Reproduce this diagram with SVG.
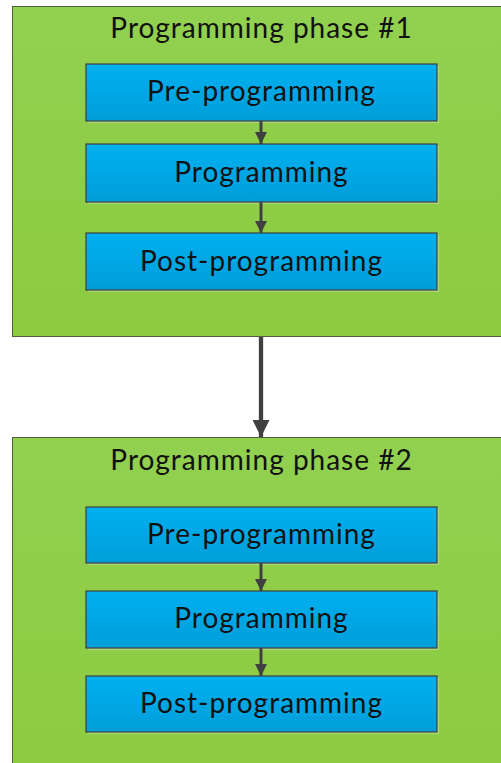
<svg xmlns="http://www.w3.org/2000/svg" width="501" height="763" viewBox="0 0 501 763">
<defs>
<linearGradient id="blue" x1="0" y1="0" x2="0" y2="1">
<stop offset="0" stop-color="#00B0F0"/>
<stop offset="1" stop-color="#009ED8"/>
</linearGradient>
<linearGradient id="green" x1="0" y1="0" x2="0" y2="1">
<stop offset="0" stop-color="#92D050"/>
<stop offset="1" stop-color="#8CCB40"/>
</linearGradient>
<marker id="ah" viewBox="0 0 12 12" refX="12" refY="6" markerWidth="12" markerHeight="12" markerUnits="userSpaceOnUse" orient="auto">
<path d="M0,0 L12,6 L0,12 Z" fill="#404040"/>
</marker>
<marker id="ahb" viewBox="0 0 17 17" refX="17" refY="8.5" markerWidth="17" markerHeight="17" markerUnits="userSpaceOnUse" orient="auto">
<path d="M0,0 L17,8.5 L0,17 Z" fill="#404040"/>
</marker>
</defs>
<style>
.phase{fill:url(#green);stroke:#4F5F3A;stroke-width:1}
.step{fill:url(#blue);stroke:#404040;stroke-width:1.2}
.shadow{fill:#B5D98A;opacity:0.8}
.title,.label{font-family:Lato,"Open Sans",sans-serif;font-size:28px;letter-spacing:1px;fill:#111;text-anchor:middle}
.conn{stroke:#404040;stroke-width:3;fill:none}
.connb{stroke:#404040;stroke-width:4.3;fill:none}
</style>
<g id="phase1">
<rect class="phase" x="12.5" y="6.5" width="500" height="330"/>
<text class="title" x="261.5" y="38">Programming phase #1</text>
</g>
<g id="p1-pre">
<rect class="shadow" x="88" y="66" width="351" height="57"/>
<rect class="step" x="86" y="64" width="351" height="57"/>
<text class="label" x="261.5" y="101">Pre-programming</text>
</g>
<g id="p1-prog">
<rect class="shadow" x="88" y="146" width="351" height="58"/>
<rect class="step" x="86" y="144" width="351" height="58"/>
<text class="label" x="261.5" y="182">Programming</text>
</g>
<g id="p1-post">
<rect class="shadow" x="88" y="235" width="351" height="57"/>
<rect class="step" x="86" y="233" width="351" height="57"/>
<text class="label" x="261.5" y="271">Post-programming</text>
</g>
<g id="phase2">
<rect class="phase" x="12.5" y="437.5" width="500" height="340"/>
<text class="title" x="261.5" y="470">Programming phase #2</text>
</g>
<g id="p2-pre">
<rect class="shadow" x="88" y="509" width="351" height="56"/>
<rect class="step" x="86" y="507" width="351" height="56"/>
<text class="label" x="261.5" y="544">Pre-programming</text>
</g>
<g id="p2-prog">
<rect class="shadow" x="88" y="593" width="351" height="57"/>
<rect class="step" x="86" y="591" width="351" height="57"/>
<text class="label" x="261.5" y="628">Programming</text>
</g>
<g id="p2-post">
<rect class="shadow" x="88" y="678" width="351" height="56"/>
<rect class="step" x="86" y="676" width="351" height="56"/>
<text class="label" x="261.5" y="713">Post-programming</text>
</g>
<g id="connectors">
<line class="conn" x1="261" y1="121" x2="261" y2="144" marker-end="url(#ah)"/>
<line class="conn" x1="261" y1="202" x2="261" y2="233" marker-end="url(#ah)"/>
<line class="connb" x1="261" y1="337" x2="261" y2="437" marker-end="url(#ahb)"/>
<line class="conn" x1="261" y1="563" x2="261" y2="591" marker-end="url(#ah)"/>
<line class="conn" x1="261" y1="648" x2="261" y2="676" marker-end="url(#ah)"/>
</g>
</svg>
